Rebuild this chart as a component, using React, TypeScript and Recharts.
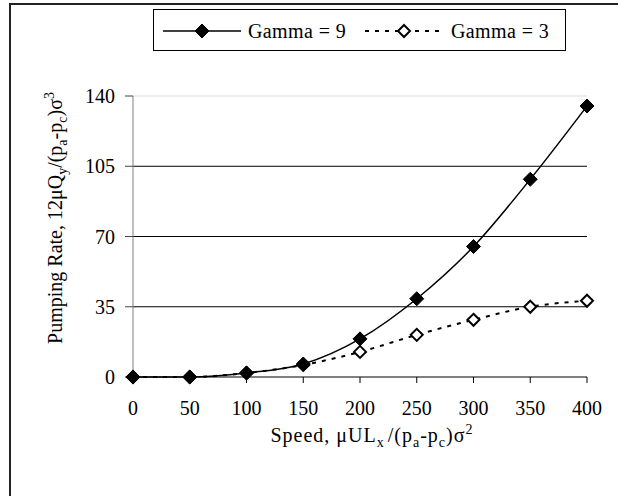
import React from "react";
import { LineChart, Line, XAxis, YAxis, ReferenceLine, Legend } from "recharts";

const speeds = [0, 50, 100, 150, 200, 250, 300, 350, 400];
const gamma9 = [0, 0, 2, 6.5, 19, 39, 65, 98.5, 135];
const gamma3 = [0, 0, 2, 6, 12.5, 21, 28.5, 35, 38];
const xTicks = [0, 50, 100, 150, 200, 250, 300, 350, 400];
const yTicks = [0, 35, 70, 105, 140];
const gridLines = [35, 70, 105];

const data = speeds.map((s, i) => ({ speed: s, g9: gamma9[i], g3: gamma3[i] }));

const FONT = "'Liberation Serif', 'Times New Roman', serif";

const FilledDiamond = (props: any) => {
  const { cx, cy } = props;
  if (cx == null || cy == null) return null;
  const r = 7;
  return (
    <polygon
      points={`${cx},${cy - r} ${cx + r},${cy} ${cx},${cy + r} ${cx - r},${cy}`}
      fill="#000"
      stroke="#000"
    />
  );
};

const HollowDiamond = (props: any) => {
  const { cx, cy } = props;
  if (cx == null || cy == null) return null;
  const r = 6;
  return (
    <polygon
      points={`${cx},${cy - r} ${cx + r},${cy} ${cx},${cy + r} ${cx - r},${cy}`}
      fill="#fff"
      stroke="#000"
      strokeWidth={2}
    />
  );
};

const LegendBox = () => (
  <div style={{ width: 411, height: 40, border: "1px solid #000", background: "#fff" }}>
    <svg width={411} height={40} style={{ display: "block" }}>
      <line x1={9} x2={87} y1={21} y2={21} stroke="#000" strokeWidth={1.5} />
      <FilledDiamond cx={48} cy={21} />
      <text x={94} y={28} fontFamily={FONT} fontSize={20} letterSpacing={0.4} fill="#000">Gamma = 9</text>
      <line x1={211} x2={289} y1={21} y2={21} stroke="#000" strokeWidth={2} strokeDasharray="4 6" />
      <HollowDiamond cx={250} cy={21} />
      <text x={297} y={28} fontFamily={FONT} fontSize={20} letterSpacing={0.4} fill="#000">Gamma = 3</text>
    </svg>
  </div>
);

const YTitle = () => (
  <text
    x={62}
    y={218}
    transform="rotate(-90 62 218)"
    textAnchor="middle"
    fontFamily={FONT}
    fontSize={20}
    fill="#000"
  >
    Pumping Rate, 12μQ
    <tspan fontSize={14} dy={5}>y</tspan>
    <tspan dy={-5}>/(p</tspan>
    <tspan fontSize={14} dy={5}>a</tspan>
    <tspan dy={-5}>-p</tspan>
    <tspan fontSize={14} dy={5}>c</tspan>
    <tspan dy={-5}>)σ</tspan>
    <tspan fontSize={14} dy={-8}>3</tspan>
  </text>
);

const XTitle = () => (
  <text
    x={372}
    y={442}
    textAnchor="middle"
    fontFamily={FONT}
    fontSize={20}
    letterSpacing={1}
    fill="#000"
  >
    Speed, μUL
    <tspan fontSize={14} dy={5}>x</tspan>
    <tspan dy={-5} dx={3}>/(p</tspan>
    <tspan fontSize={14} dy={5}>a</tspan>
    <tspan dy={-5}>-p</tspan>
    <tspan fontSize={14} dy={5}>c</tspan>
    <tspan dy={-5}>)σ</tspan>
    <tspan fontSize={14} dy={-8}>2</tspan>
  </text>
);

export default function App() {
  return (
    <div
      style={{
        position: "absolute",
        left: 0,
        top: 0,
        width: 618,
        height: 496,
        overflow: "hidden",
        background: "#fff",
      }}
    >
      {/* chart frame, runs past the right and bottom edges */}
      <div
        style={{
          position: "absolute",
          left: 9,
          top: 3,
          width: 700,
          height: 600,
          borderLeft: "2px solid #222",
          borderTop: "2px solid #222",
        }}
      />
      <div style={{ position: "absolute", left: 0, top: 0 }}>
        <LineChart width={618} height={496} data={data} margin={{ top: 96, right: 31, left: 73, bottom: 89 }}>
          <ReferenceLine y={140} stroke="#dddddd" strokeWidth={1} />
          {gridLines.map((v) => (
            <ReferenceLine key={v} y={v} stroke="#000" strokeWidth={1} />
          ))}
          <XAxis
            dataKey="speed"
            type="number"
            domain={[0, 400]}
            ticks={xTicks}
            interval={0}
            height={30}
            axisLine={{ stroke: "#000", strokeWidth: 1 }}
            tickLine={{ stroke: "#000" }}
            tickSize={6}
            tickMargin={18}
            tick={{ fill: "#000", fontSize: 20, fontFamily: FONT }}
            label={{ content: () => <XTitle /> }}
          />
          <YAxis
            type="number"
            domain={[0, 140]}
            ticks={yTicks}
            interval={0}
            width={60}
            axisLine={{ stroke: "#808080", strokeWidth: 1 }}
            tickLine={{ stroke: "#444" }}
            tickSize={8}
            tickMargin={10}
            tick={{ fill: "#000", fontSize: 20, fontFamily: FONT }}
            label={{ content: () => <YTitle /> }}
          />
          <Legend
            layout="vertical"
            align="center"
            verticalAlign="middle"
            wrapperStyle={{ left: 153, top: 9, width: 413, height: 42 }}
            content={() => <LegendBox />}
          />
          <Line
            type="monotone"
            dataKey="g3"
            name="Gamma = 3"
            stroke="#000"
            strokeWidth={2}
            strokeDasharray="4 6"
            dot={<HollowDiamond />}
            activeDot={false}
            isAnimationActive={false}
          />
          <Line
            type="monotone"
            dataKey="g9"
            name="Gamma = 9"
            stroke="#000"
            strokeWidth={1.5}
            dot={<FilledDiamond />}
            activeDot={false}
            isAnimationActive={false}
          />
        </LineChart>
      </div>
    </div>
  );
}
